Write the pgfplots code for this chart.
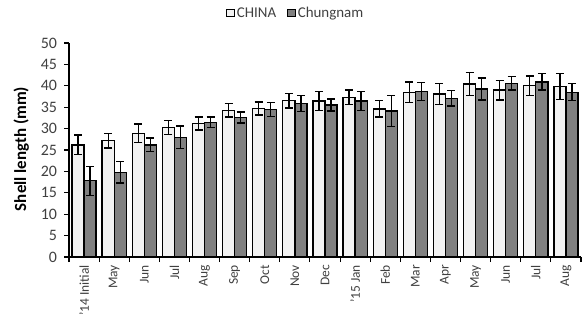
\documentclass[border=0pt]{standalone}
\usepackage{pgfplots}
\usepackage{pgfplotstable}
\pgfplotsset{compat=1.18}
\usepackage{fontspec}
\setmainfont{Carlito}
\definecolor{txtgray}{HTML}{404040}
\definecolor{chinafill}{HTML}{F2F2F2}
\definecolor{chungfill}{HTML}{808080}
\pgfplotstableread{
x china chinaerr chung chungerr
0 26.2 2.3 17.8 3.4
1 27.2 1.7 19.8 2.5
2 28.9 2.2 26.2 1.6
3 30.3 1.6 28.0 2.6
4 31.2 1.5 31.5 1.2
5 34.3 1.6 32.6 1.3
6 34.7 1.5 34.5 1.6
7 36.5 1.7 35.9 1.9
8 36.45 2.3 35.5 1.4
9 37.3 1.7 36.45 2.2
10 34.6 1.9 34.1 3.6
11 38.5 2.4 38.6 2.1
12 38.1 2.4 37.1 1.8
13 40.4 2.7 39.25 2.6
14 39.0 2.3 40.6 1.6
15 40.0 2.3 40.9 1.9
16 39.8 3.0 38.5 2.0
}\data
\begin{document}
\begin{tikzpicture}
\path[use as bounding box] (-69bp,-67bp) rectangle (514bp,257bp);
\begin{axis}[
  scale only axis, width=512bp, height=214bp,
  ybar=0pt, bar width=0.4,
  xmin=-0.5, xmax=16.5, ymin=0, ymax=50,
  ytick={0,5,...,50},
  xtick={0,...,16},
  xticklabels={'14 Initial,May,Jun,Jul,Aug,Sep,Oct,Nov,Dec,'15 Jan,Feb,Mar,Apr,May,Jun,Jul,Aug},
  minor xtick={-0.5,0.5,...,16.5},
  major x tick style={draw=none},
  axis x line*=bottom, axis y line*=left,
  axis line style={line width=1.3bp, black},
  tick style={line width=1.1bp, black},
  tick align=outside, major tick length=4.5bp, minor tick length=5bp,
  /pgf/number format/assume math mode=true,
  y tick label style={font=\fontsize{16}{18}\selectfont, text=txtgray, xshift=-4bp},
  x tick label style={rotate=90, anchor=east, font=\fontsize{13.5}{16}\selectfont, text=txtgray, yshift=0bp},
  ylabel={Shell length (mm)},
  ylabel style={at={(axis description cs:-0.093,0.505)}, anchor=center, font=\fontsize{17}{20}\selectfont\bfseries},
  legend columns=2,
  legend style={draw=none, fill=none, at={(axis description cs:0.443,1.14)}, anchor=center,
    font=\fontsize{15}{17}\selectfont, text=txtgray, /tikz/every even column/.append style={column sep=9bp}},
  legend image code/.code={\draw[#1, line width=1.1bp] (0bp,-3.5bp) rectangle (7.5bp,3.5bp);},
]
\addplot[fill=chinafill, draw=black, line width=1.3bp,
  error bars/.cd, y dir=both, y explicit,
  error bar style={line width=1.3bp, black},
  error mark options={rotate=90, mark size=4bp, line width=1.3bp, black}]
  table[x=x, y=china, y error=chinaerr]{\data};
\addlegendentry{CHINA}
\addplot[fill=chungfill, draw=black, line width=1.3bp,
  error bars/.cd, y dir=both, y explicit,
  error bar style={line width=1.3bp, black},
  error mark options={rotate=90, mark size=4bp, line width=1.3bp, black}]
  table[x=x, y=chung, y error=chungerr]{\data};
\addlegendentry{Chungnam}
\end{axis}
\end{tikzpicture}
\end{document}
